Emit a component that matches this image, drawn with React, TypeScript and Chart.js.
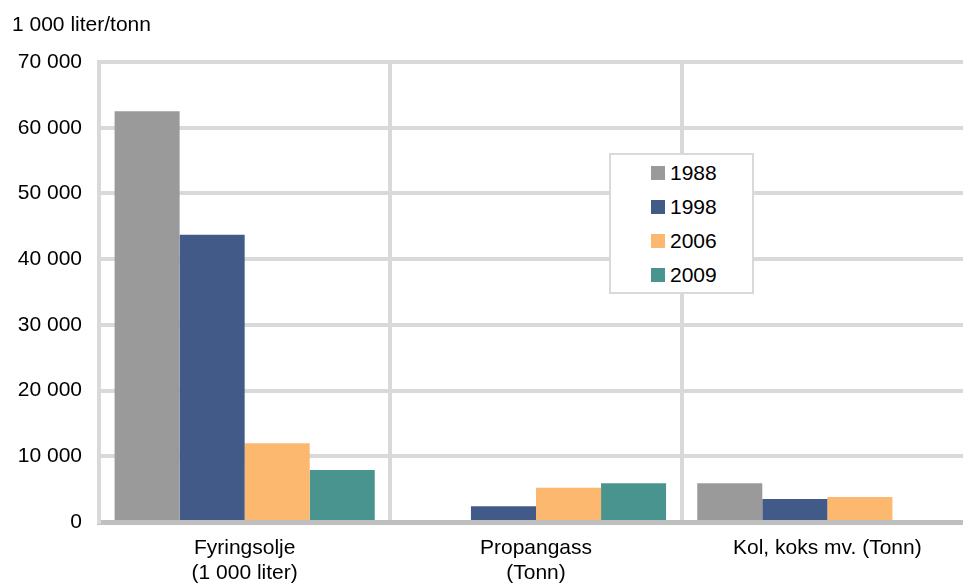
import React, { useEffect, useRef } from "react";
import { Chart, registerables } from "chart.js";

Chart.register(...registerables);

const categories: (string | string[])[] = [
  ["Fyringsolje", "(1 000 liter)"],
  ["Propangass", "(Tonn)"],
  "Kol, koks mv. (Tonn)",
];
const years = ["1988", "1998", "2006", "2009"];
const values1988 = [62500, null, 5900];
const values1998 = [43700, 2400, 3500];
const values2006 = [12000, 5200, 3800];
const values2009 = [7900, 5900, null];
const colors = ["#9a9a9a", "#415a88", "#fdb86f", "#4a948f"];
const yTicks = [0, 10000, 20000, 30000, 40000, 50000, 60000, 70000];
const yTitle = "1 000 liter/tonn";

const FONT = "'Liberation Sans', Arial, sans-serif";
const FS = 21;

const fmt = (v: number) =>
  String(Math.round(v)).replace(/\B(?=(\d{3})+(?!\d))/g, " ");

export default function App() {
  const ref = useRef<HTMLCanvasElement | null>(null);

  useEffect(() => {
    if (!ref.current) return;
    const series = [values1988, values1998, values2006, values2009];
    const titlePlugin = {
      id: "ytitle",
      afterDraw(chart: any) {
        const ctx = chart.ctx;
        ctx.save();
        ctx.font = `${FS}px ${FONT}`;
        ctx.fillStyle = "#000";
        ctx.textAlign = "left";
        ctx.textBaseline = "alphabetic";
        ctx.fillText(yTitle, 12, 31);
        ctx.restore();
      },
    };
    const chart = new Chart(ref.current, {
      type: "bar",
      data: {
        labels: categories as any,
        datasets: years.map((y, i) => ({
          label: y,
          data: series[i] as any,
          backgroundColor: colors[i],
          borderWidth: 0,
          categoryPercentage: 0.893,
          barPercentage: 1,
        })),
      },
      options: {
        animation: false,
        responsive: true,
        maintainAspectRatio: false,
        layout: { padding: { top: 62, left: 0, right: 0, bottom: 0 } },
        plugins: {
          legend: { display: false },
          tooltip: { enabled: false },
          title: { display: false },
        },
        scales: {
          x: {
            z: 1,
            offset: true,
            grid: {
              offset: true,
              color: "#d9d9d9",
              lineWidth: 4,
              drawTicks: false,
            },
            border: { display: true, color: "#bfbfbf", width: 5 },
            ticks: {
              color: "#000",
              font: { family: FONT, size: FS, lineHeight: 1.17 },
              padding: 14,
              maxRotation: 0,
              autoSkip: false,
            },
            afterFit(scale: any) {
              scale.height = 62;
            },
          },
          y: {
            min: 0,
            max: 70000,
            afterBuildTicks(scale: any) {
              scale.ticks = yTicks.map((v) => ({ value: v }));
            },
            grid: { color: "#d9d9d9", lineWidth: 4, drawTicks: false },
            border: { display: true, color: "#d9d9d9", width: 4 },
            ticks: {
              color: "#000",
              font: { family: FONT, size: FS },
              padding: 17,
              callback: (v: any) => fmt(Number(v)),
            },
            afterFit(scale: any) {
              scale.width = 99;
            },
          },
        },
      },
      plugins: [titlePlugin],
    });
    return () => chart.destroy();
  }, []);

  return (
    <div
      style={{
        position: "fixed",
        left: 0,
        top: 0,
        width: 963,
        height: 584,
        overflow: "hidden",
        background: "#fff",
      }}
    >
      <div style={{ position: "relative", width: 973, height: 584 }}>
        <canvas ref={ref} />
        <div
          style={{
            position: "absolute",
            left: 609,
            top: 153,
            width: 141,
            height: 137,
            border: "2px solid #d9d9d9",
            background: "#fff",
            fontFamily: FONT,
            fontSize: FS,
            color: "#000",
          }}
        >
          {years.map((y, i) => (
            <div
              key={y}
              style={{
                position: "absolute",
                left: 40,
                top: 18 + i * 34 - 14,
                height: 28,
                display: "flex",
                alignItems: "center",
              }}
            >
              <span
                style={{
                  display: "inline-block",
                  width: 14,
                  height: 14,
                  background: colors[i],
                  marginRight: 5,
                }}
              />
              <span style={{ lineHeight: "28px" }}>{y}</span>
            </div>
          ))}
        </div>
      </div>
    </div>
  );
}
